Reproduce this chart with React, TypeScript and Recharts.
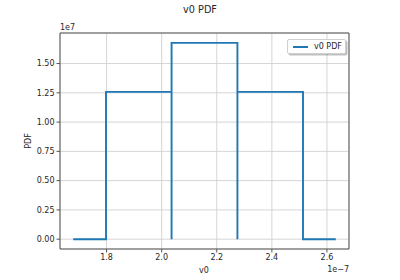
import { LineChart, Line, XAxis, YAxis, CartesianGrid, Legend } from 'recharts'

// outline of the histogram-like PDF, x in 1e-7 units, y in 1e7 units
const pdfX = [1.679, 1.798, 1.798, 2.036, 2.036, 2.036, 2.275, 2.275, 2.275, 2.513, 2.513, 2.632]
const pdfY = [0, 0, 1.258, 1.258, 0, 1.677, 1.677, 0, 1.258, 1.258, 0, 0]

const xTicks = [1.8, 2.0, 2.2, 2.4, 2.6]
const yTicks = [0, 0.25, 0.5, 0.75, 1.0, 1.25, 1.5]

const data = pdfX.map((x, i) => ({ x, pdf: pdfY[i] }))

const FONT = '"DejaVu Sans", sans-serif'
const TEXT = '#262626'
const BLUE = '#1f77b4'

function LegendBox() {
  return (
    <div style={{
      width: 59, height: 15, boxSizing: 'border-box', background: '#fff',
      border: '1px solid #cfcfcf', borderRadius: 2, boxShadow: '1.5px 1.5px 0 rgba(0,0,0,0.25)',
      display: 'flex', alignItems: 'center', fontFamily: FONT, fontSize: 8, color: TEXT
    }}>
      <span style={{ width: 15, height: 2, background: BLUE, marginLeft: 5, marginRight: 6, display: 'inline-block' }} />
      v0 PDF
    </div>
  )
}

export default function App() {
  return (
    <div style={{ position: 'absolute', left: 0, top: 0, width: 400, height: 280, background: '#fff' }}>
      <LineChart width={400} height={280} data={data} margin={{ top: 33, right: 51, bottom: 0, left: 0 }}>
        <CartesianGrid stroke="#d0d0d0" strokeWidth={0.9} />
        <XAxis
          dataKey="x" type="number" domain={[1.631, 2.68]} ticks={xTicks} allowDataOverflow
          tickFormatter={(v: number) => v.toFixed(1)} height={31}
          tick={{ fontSize: 8, fill: TEXT, fontFamily: FONT }} tickSize={3.5} tickMargin={2}
          stroke="#555" axisLine={{ stroke: '#555' }}
        />
        <YAxis
          type="number" domain={[-0.0839, 1.761]} ticks={yTicks} allowDataOverflow
          tickFormatter={(v: number) => v.toFixed(2)} width={60}
          tick={{ fontSize: 8, fill: TEXT, fontFamily: FONT }} tickSize={3.5} tickMargin={2}
          stroke="#555" axisLine={{ stroke: '#555' }}
        />
        <Line
          type="linear" dataKey="pdf" name="v0 PDF" stroke={BLUE} strokeWidth={1.9}
          dot={false} activeDot={false} isAnimationActive={false}
        />
        <Legend
          layout="horizontal" verticalAlign="middle" align="center"
          wrapperStyle={{ top: 39, left: 287, width: 59, height: 15 }}
          content={() => <LegendBox />}
        />
        <line x1={349} y1={33} x2={349} y2={249} stroke="#555" strokeWidth={1} />
        <line x1={60} y1={33} x2={349} y2={33} stroke="#555" strokeWidth={1} />
        <text x={200} y={13} textAnchor="middle" fontSize={9.7} fontFamily={FONT} fill={TEXT}>v0 PDF</text>
        <text x={60} y={30} fontSize={8} fontFamily={FONT} fill={TEXT}>1e7</text>
        <text x={349} y={272} textAnchor="end" fontSize={8} fontFamily={FONT} fill={TEXT}>1e−7</text>
        <text x={204} y={273} textAnchor="middle" fontSize={8} fontFamily={FONT} fill={TEXT}>v0</text>
        <text x={31} y={141} textAnchor="middle" fontSize={8} fontFamily={FONT} fill={TEXT} transform="rotate(-90 31 141)">PDF</text>
      </LineChart>
    </div>
  )
}
